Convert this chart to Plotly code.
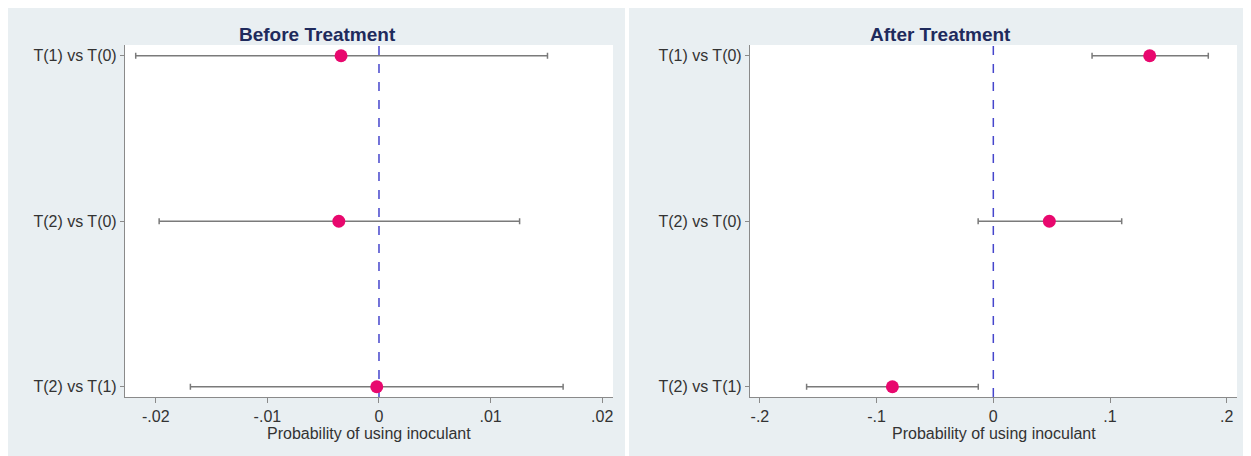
import plotly.graph_objects as go

# ---- data ----
rows = ["T(2) vs T(1)", "T(2) vs T(0)", "T(1) vs T(0)"]
row_pos = [0, 1, 2]

before_est = [-0.0002, -0.0036, -0.0034]
before_lo = [-0.0169, -0.0197, -0.0218]
before_hi = [0.0165, 0.0126, 0.0151]

after_est = [-0.0865, 0.048, 0.134]
after_lo = [-0.160, -0.013, 0.0846]
after_hi = [-0.0129, 0.110, 0.1842]

left_ticks = [-0.02, -0.01, 0, 0.01, 0.02]
left_ticktext = ["-.02", "-.01", "0", ".01", ".02"]
right_ticks = [-0.2, -0.1, 0, 0.1, 0.2]
right_ticktext = ["-.2", "-.1", "0", ".1", ".2"]

titles = ["Before Treatment", "After Treatment"]
xtitle = "Probability of using inoculant"

# page is rendered with an 8px body margin, so the figure is 8px smaller
W, H = 1243, 448
BG = "#e9eff2"
PINK = "#e8086e"
ERR = "#7a7a7a"
AX = "#8a8a8a"
TXT = "#333333"
FONT = "Arial, Liberation Sans, sans-serif"

# plot-area pixel boxes (figure coordinates)
L_X = (117, 605)
R_X = (742, 1229)
Y_PX = (37, 389)

fig = go.Figure()


def add_panel(est, lo, hi, xa, ya):
    fig.add_trace(go.Scatter(
        x=est, y=row_pos, mode="markers",
        xaxis=xa, yaxis=ya,
        marker=dict(color=PINK, size=13, line=dict(width=0)),
        error_x=dict(type="data", symmetric=False,
                     array=[h - e for h, e in zip(hi, est)],
                     arrayminus=[e - l for e, l in zip(est, lo)],
                     color=ERR, thickness=1.5, width=3),
        showlegend=False, hoverinfo="skip",
    ))


add_panel(before_est, before_lo, before_hi, "x", "y")
add_panel(after_est, after_lo, after_hi, "x2", "y2")

ydom = [(H - Y_PX[1]) / H, (H - Y_PX[0]) / H]
yrange = [-0.062, 2.065]

common_x = dict(
    showline=True, linecolor=AX, linewidth=1.2, mirror=False,
    ticks="outside", ticklen=5, tickcolor=AX, tickwidth=1,
    showgrid=False, zeroline=False,
    tickfont=dict(family=FONT, size=16, color=TXT),
)
common_y = dict(
    showline=True, linecolor=AX, linewidth=1.2,
    ticks="outside", ticklen=4, tickcolor=AX, tickwidth=1,
    showgrid=False, zeroline=False, range=yrange, domain=ydom,
    tickvals=row_pos, ticktext=rows,
    tickfont=dict(family=FONT, size=16, color=TXT),
)

fig.update_layout(
    width=W, height=H,
    margin=dict(l=0, r=0, t=0, b=0),
    paper_bgcolor=BG, plot_bgcolor="white",
    xaxis=dict(domain=[L_X[0] / W, L_X[1] / W], range=[-0.02276, 0.02097],
               tickvals=left_ticks, ticktext=left_ticktext, anchor="y", **common_x),
    yaxis=dict(anchor="x", **common_y),
    xaxis2=dict(domain=[R_X[0] / W, R_X[1] / W], range=[-0.2085, 0.2088],
                tickvals=right_ticks, ticktext=right_ticktext, anchor="y2", **common_x),
    yaxis2=dict(anchor="x2", **common_y),
)

# zero reference lines
for xa, ya in [("x", "y domain"), ("x2", "y2 domain")]:
    fig.add_shape(type="line", xref=xa, yref=ya, x0=0, x1=0, y0=0, y1=1,
                  line=dict(color="#4646cc", width=1.5, dash="dash"), layer="below")

# white gap between the two panels
fig.add_shape(type="rect", xref="paper", yref="paper",
              x0=617 / W, x1=621 / W, y0=0, y1=1,
              fillcolor="white", line=dict(width=0), layer="above")

# panel titles
for t, cx in zip(titles, [309, 932]):
    fig.add_annotation(text="<b>%s</b>" % t, x=cx / W, y=1 - 26 / H,
                       xref="paper", yref="paper", showarrow=False,
                       xanchor="center", yanchor="middle",
                       font=dict(family=FONT, size=19, color="#1e2a5c"))

# x-axis titles
for box in [L_X, R_X]:
    fig.add_annotation(text=xtitle, x=(box[0] + box[1]) / 2 / W, y=1 - 425 / H,
                       xref="paper", yref="paper", showarrow=False,
                       xanchor="center", yanchor="middle",
                       font=dict(family=FONT, size=16, color=TXT))

fig.write_html("out.html")
